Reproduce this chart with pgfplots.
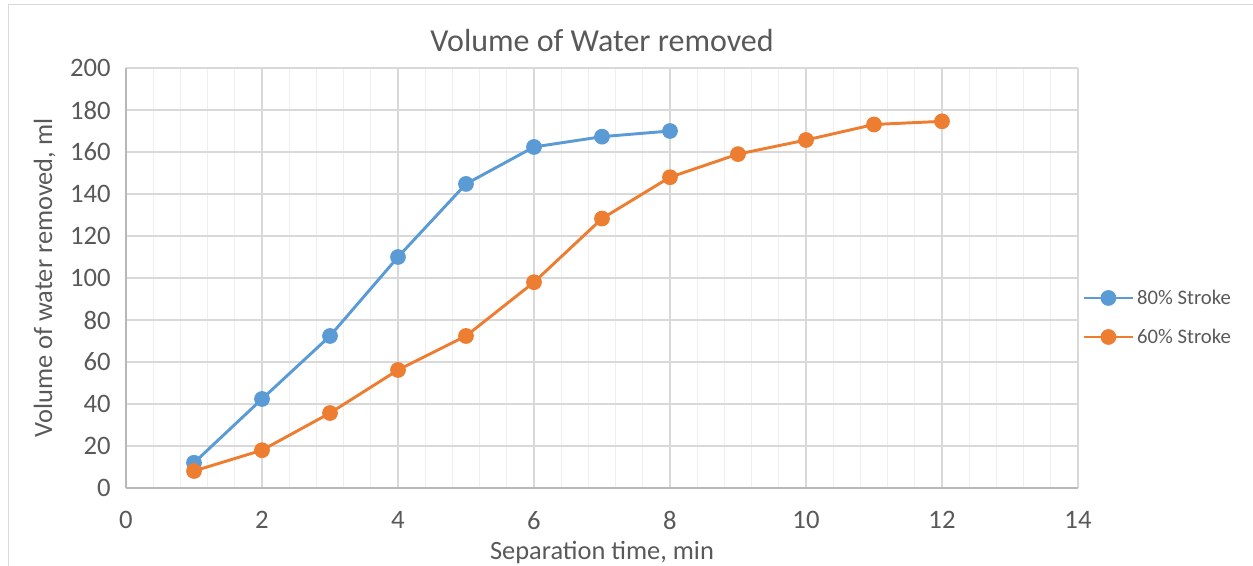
\documentclass[border=0pt]{standalone}
\usepackage{pgfplots}
\pgfplotsset{compat=1.18}
\usepackage{fontspec}
\setmainfont{Carlito}
\definecolor{blueS}{HTML}{5B9BD5}
\definecolor{orangeS}{HTML}{ED7D31}
\definecolor{txt}{HTML}{595959}
\definecolor{majg}{HTML}{D9D9D9}
\definecolor{ming}{HTML}{EFEFEF}
\begin{document}
\begin{tikzpicture}[x=0.75pt,y=0.75pt]
\useasboundingbox (0,0) rectangle (1253,565);
\draw[majg, line width=0.75pt] (8,-2) -- (8,560) -- (1255,560);
\begin{axis}[
  at={(94.5pt,57.75pt)}, anchor=south west,
  scale only axis, width=714pt, height=315pt,
  xmin=0, xmax=14, ymin=0, ymax=200,
  xtick={0,2,...,14}, ytick={0,20,...,200},
  minor x tick num=4,
  grid=both,
  major grid style={majg, line width=0.9pt},
  minor grid style={ming, line width=0.9pt},
  axis lines=left,
  axis line style={-, draw=majg!85!black, line width=0.9pt},
  major tick length=0pt, minor tick length=0pt,
  tick label style={font=\fontsize{20}{24}\selectfont, text=txt},
  /pgf/number format/assume math mode=true,
  xticklabel style={yshift=-14pt},
  yticklabel style={xshift=-8pt},
  title={Volume of Water removed},
  title style={font=\fontsize{24}{28}\selectfont, text=txt, yshift=3pt},
  xlabel={Separation time, min},
  ylabel={Volume of water removed, ml},
  label style={font=\fontsize{19.8}{23}\selectfont, text=txt},
  xlabel style={yshift=-2pt},
  ylabel style={yshift=4pt},
  legend style={at={(1.0,0.406)}, anchor=west, draw=none, fill=none,
    font=\fontsize{15.5}{18}\selectfont, text=txt, row sep=13pt,
    /tikz/every even column/.append style={column sep=2pt}},
  legend cell align=left,
  legend image code/.code={
    \draw[#1, mark=none] (0pt,0pt) -- (37pt,0pt);
    \fill[#1] (18.5pt,0pt) circle (4.8pt);
  },
  clip=false,
]
\addplot[color=blueS, line width=2.2pt, mark=*, mark size=4.8pt, mark options={fill=blueS, draw=blueS}] coordinates {
(1,12) (2,42.4) (3,72.4) (4,110) (5,144.8) (6,162.4) (7,167.3) (8,170)
};
\addlegendentry{80\% Stroke}
\addplot[color=orangeS, line width=2.2pt, mark=*, mark size=4.8pt, mark options={fill=orangeS, draw=orangeS}] coordinates {
(1,8.1) (2,18) (3,35.7) (4,56.2) (5,72.4) (6,98) (7,128.3) (8,148) (9,159) (10,165.7) (11,173.1) (12,174.6)
};
\addlegendentry{60\% Stroke}
\end{axis}
\end{tikzpicture}
\end{document}
